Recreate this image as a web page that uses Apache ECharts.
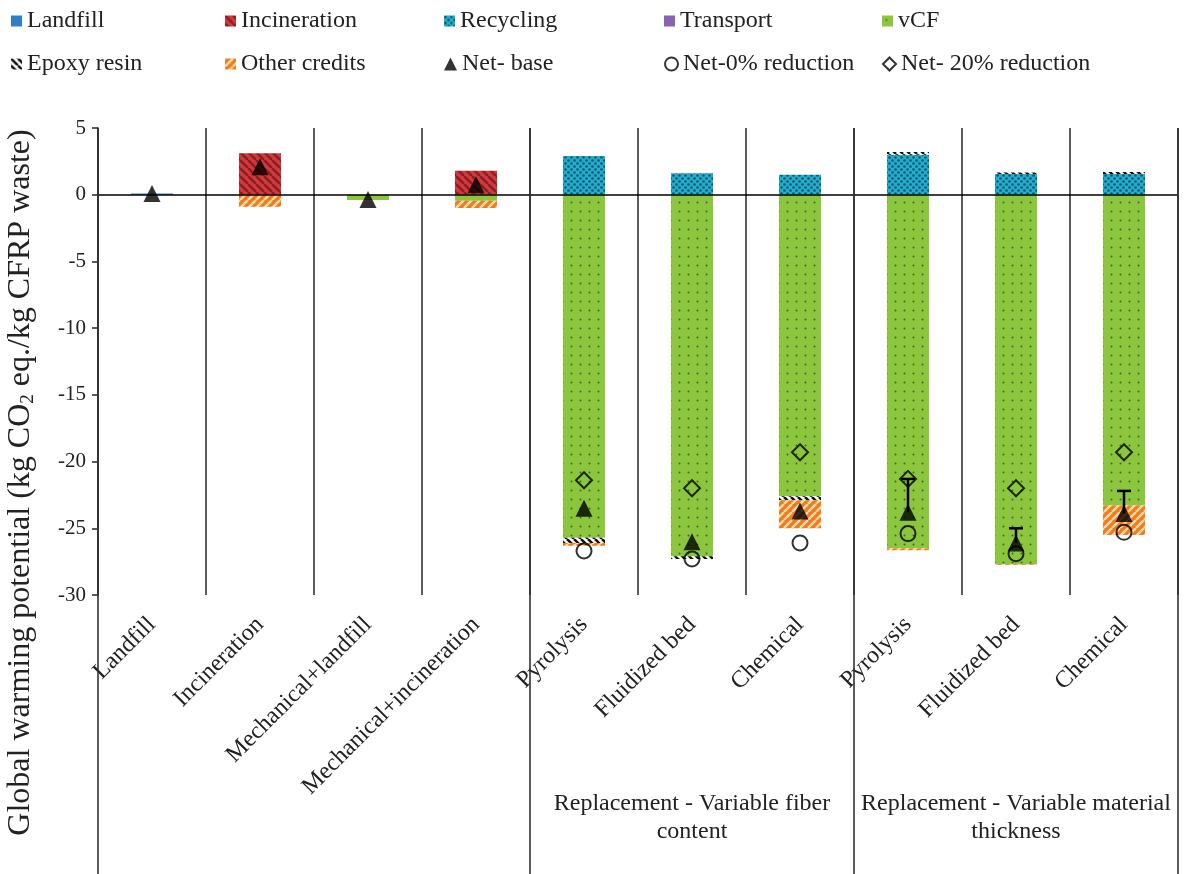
<!DOCTYPE html>
<html>
<head>
<meta charset="utf-8">
<script src="https://cdn.jsdelivr.net/npm/echarts@6.0.0/dist/echarts.min.js"></script>
<style>
	html, body { margin: 0; padding: 0; background: #fff; }
	#chart-container { width: 1185px; height: 874px; }
</style>
</head>
<body>
<div id="chart-container"></div>
<script>
const categories = ['Landfill', 'Incineration', 'Mechanical+landfill', 'Mechanical+incineration',
	'Pyrolysis', 'Fluidized bed', 'Chemical', 'Pyrolysis', 'Fluidized bed', 'Chemical'];
const yTicks = [5, 0, -5, -10, -15, -20, -25, -30];

// stacked contributions
const landfill     = [0.1, 0, 0, 0, 0, 0, 0, 0, 0, 0];
const incineration = [0, 3.1, 0, 1.8, 0, 0, 0, 0, 0, 0];
const recycling    = [0, 0, 0, 0, 2.9, 1.6, 1.5, 3.0, 1.55, 1.55];
const transport    = [0, 0, 0, 0, 0, 0, 0, 0, 0, 0];
const vCF          = [0, 0, -0.4, -0.45, -25.7, -27.1, -22.6, -26.5, -27.7, -23.3];
const epoxyResin   = [0, 0, 0, 0, -0.4, -0.2, -0.3, 0.2, 0.12, 0.15];
const otherCredits = [0, -0.9, 0, -0.55, -0.2, 0, -2.1, -0.15, -0.05, -2.2];

// net results
const netBase   = [0.1, 2.1, -0.35, 0.75, -23.5, -26.0, -23.7, -23.8, -26.1, -23.9];
const net0      = [null, null, null, null, -26.7, -27.3, -26.1, -25.4, -26.9, -25.3];
const net20     = [null, null, null, null, -21.4, -22.0, -19.3, -21.3, -22.0, -19.3];
const netErrTop = [null, null, null, null, null, null, null, -21.3, -25.0, -22.2];

const groupBounds = [0, 4, 7, 10];
const groupLabels = [
	{from: 4, to: 7, text: 'Replacement - Variable fiber\ncontent'},
	{from: 7, to: 10, text: 'Replacement - Variable material\nthickness'},
];

// legend layout: two rows, five columns
const legendRows = [
	['Landfill', 'Incineration', 'Recycling', 'Transport', 'vCF'],
	['Epoxy resin', 'Other credits', 'Net- base', 'Net-0% reduction', 'Net- 20% reduction'],
];
const legendCols = [6, 220, 439, 659, 877];
const legendTops = [4, 47];

const FONT = '"Liberation Serif", "Times New Roman", serif';

// fill patterns
function stripes(bg, fg, dir, s, w) {
	const c = document.createElement('canvas');
	c.width = c.height = s;
	const g = c.getContext('2d');
	g.fillStyle = bg;
	g.fillRect(0, 0, s, s);
	g.strokeStyle = fg;
	g.lineWidth = w;
	g.beginPath();
	for (const o of [-s, 0, s]) {
		if (dir === '/') {
			g.moveTo(o, s); g.lineTo(o + s, 0);
		} else {
			g.moveTo(o, 0); g.lineTo(o + s, s);
		}
	}
	g.stroke();
	return {image: c, repeat: 'repeat'};
}

function dots(bg, fg, s, r, checker) {
	const c = document.createElement('canvas');
	c.width = c.height = s;
	const g = c.getContext('2d');
	g.fillStyle = bg;
	g.fillRect(0, 0, s, s);
	g.fillStyle = fg;
	const pts = checker ? [[s / 4, s / 4], [3 * s / 4, 3 * s / 4]] : [[s / 2, s / 2]];
	for (const [x, y] of pts) {
		g.beginPath();
		g.arc(x, y, r, 0, Math.PI * 2);
		g.fill();
	}
	return {image: c, repeat: 'repeat'};
}

const fills = {
	landfill: '#2e7fc8',
	incineration: stripes('#d2393c', '#8a1e22', '\\', 8, 2.5),
	recycling: dots('#1fb0d0', '#17506c', 6, 1.3, true),
	transport: '#8a62b0',
	vCF: dots('#8cc63f', '#3f6a22', 9, 1.0, false),
	epoxy: stripes('#ffffff', '#111111', '\\', 7, 2.5),
	other: stripes('#f07a1e', '#fcd9a4', '/', 8, 2.5),
};

function barSeries(name, data, color) {
	return {
		name: name,
		type: 'bar',
		stack: 'total',
		barWidth: 42,
		data: data,
		itemStyle: {color: color},
		emphasis: {disabled: true},
	};
}

const series = [
	barSeries('Landfill', landfill, fills.landfill),
	barSeries('Incineration', incineration, fills.incineration),
	barSeries('Recycling', recycling, fills.recycling),
	barSeries('Transport', transport, fills.transport),
	Object.assign(barSeries('vCF', vCF, fills.vCF), {
		markLine: {
			silent: true,
			symbol: ['none', 'none'],
			label: {show: false},
			lineStyle: {color: '#000', width: 1.6, type: 'solid'},
			data: [{yAxis: 0}],
		}
	}),
	barSeries('Epoxy resin', epoxyResin, fills.epoxy),
	barSeries('Other credits', otherCredits, fills.other),
	{
		name: 'errbar',
		type: 'custom',
		z: 5,
		data: netErrTop.map((v, i) => v == null ? null : [i, netBase[i], v]).filter(Boolean),
		renderItem: (params, api) => {
			const lo = api.coord([api.value(0), api.value(1)]);
			const hi = api.coord([api.value(0), api.value(2)]);
			const st = {stroke: '#000', lineWidth: 2.5};
			return {
				type: 'group',
				children: [
					{type: 'line', shape: {x1: lo[0], y1: lo[1], x2: hi[0], y2: hi[1]}, style: st},
					{type: 'line', shape: {x1: hi[0] - 7, y1: hi[1], x2: hi[0] + 7, y2: hi[1]}, style: st},
				]
			};
		}
	},
	{
		name: 'Net- base',
		type: 'scatter',
		z: 6,
		symbol: 'triangle',
		symbolSize: 17,
		itemStyle: {color: '#000'},
		data: netBase.map((v, i) => [i, v]),
	},
	{
		name: 'Net-0% reduction',
		type: 'scatter',
		z: 6,
		symbol: 'circle',
		symbolSize: 15,
		itemStyle: {color: 'rgba(0,0,0,0)', borderColor: '#000', borderWidth: 2},
		data: net0.map((v, i) => v == null ? null : [i, v]).filter(Boolean),
	},
	{
		name: 'Net- 20% reduction',
		type: 'scatter',
		z: 6,
		symbol: 'diamond',
		symbolSize: 16,
		itemStyle: {color: 'rgba(0,0,0,0)', borderColor: '#000', borderWidth: 2},
		data: net20.map((v, i) => v == null ? null : [i, v]).filter(Boolean),
	},
	// long group separators + group titles (full-height overlay grid)
	{
		name: 'groups',
		type: 'scatter',
		xAxisIndex: 1,
		yAxisIndex: 1,
		symbolSize: 0,
		silent: true,
		data: [[0, 0]],
		markLine: {
			silent: true,
			symbol: ['none', 'none'],
			label: {show: false},
			lineStyle: {color: '#333', width: 1.6, type: 'solid'},
			data: groupBounds.map(b => ({xAxis: b})),
		},
		markArea: {
			silent: true,
			itemStyle: {color: 'rgba(0,0,0,0)'},
			label: {
				show: true,
				position: 'insideBottom',
				distance: 28,
				fontFamily: FONT,
				fontSize: 24,
				lineHeight: 28,
				color: '#222',
				align: 'center',
			},
			data: groupLabels.map(g => [{xAxis: g.from, name: g.text}, {xAxis: g.to}]),
		},
	},
];

const scatterNames = ['Net- base', 'Net-0% reduction', 'Net- 20% reduction'];
const legends = [];
legendRows.forEach((row, r) => {
	row.forEach((name, c) => {
		legends.push({
			top: legendTops[r],
			left: legendCols[c],
			itemWidth: scatterNames.includes(name) ? 13 : 11,
			itemHeight: scatterNames.includes(name) ? 13 : 11,
			selectedMode: false,
			textStyle: {fontFamily: FONT, fontSize: 24, color: '#222'},
			data: [scatterNames.includes(name) ? name : {name: name, icon: 'rect'}],
		});
	});
});

const chart = echarts.init(document.getElementById('chart-container'), null, {renderer: 'canvas'});
chart.setOption({
	animation: false,
	backgroundColor: '#fff',
	legend: legends,
	grid: [
		{left: 98, right: 7, top: 128, height: 467, outerBoundsMode: 'none'},
		{left: 98, right: 7, top: 128, bottom: 0, outerBoundsMode: 'none'},
		{left: 98, right: 7, top: 125, bottom: 34, outerBoundsMode: 'none'},
	],
	xAxis: [
		{
			type: 'category',
			gridIndex: 0,
			data: categories,
			position: 'bottom',
			axisLine: {show: false, onZero: false},
			axisTick: {show: false},
			splitLine: {show: true, lineStyle: {color: '#333', width: 1.6}},
			axisLabel: {
				interval: 0,
				rotate: 45,
				margin: 26,
				fontFamily: FONT,
				fontSize: 24,
				color: '#222',
				hideOverlap: false,
			},
		},
		{type: 'value', gridIndex: 1, min: 0, max: 10, show: false},
		{type: 'value', gridIndex: 2, min: 0, max: 1, show: false},
	],
	yAxis: [
		{
			type: 'value',
			gridIndex: 0,
			min: -30,
			max: 5,
			interval: 5,
			axisLine: {show: true, lineStyle: {color: '#333', width: 1.6}},
			axisTick: {show: true, length: 6, lineStyle: {color: '#333', width: 1.6}},
			splitLine: {show: false},
			axisLabel: {
				margin: 12,
				fontFamily: FONT,
				fontSize: 21,
				color: '#222',
				customValues: yTicks,
			},
		},
		{type: 'value', gridIndex: 1, min: 0, max: 1, show: false},
		{
			type: 'value',
			gridIndex: 2,
			min: 0,
			max: 1,
			axisLine: {show: false},
			axisTick: {show: false},
			axisLabel: {show: false},
			splitLine: {show: false},
			name: 'Global warming potential (kg CO{sub|2} eq./kg CFRP waste)',
			nameLocation: 'middle',
			nameGap: 60,
			nameTextStyle: {
				fontFamily: FONT,
				fontSize: 32,
				color: '#222',
				rich: {
					sub: {fontFamily: FONT, fontSize: 19, verticalAlign: 'bottom', padding: [15, 0, 0, 0], color: '#222'},
				},
			},
		},
	],
	series: series,
});
</script>
</body>
</html>
